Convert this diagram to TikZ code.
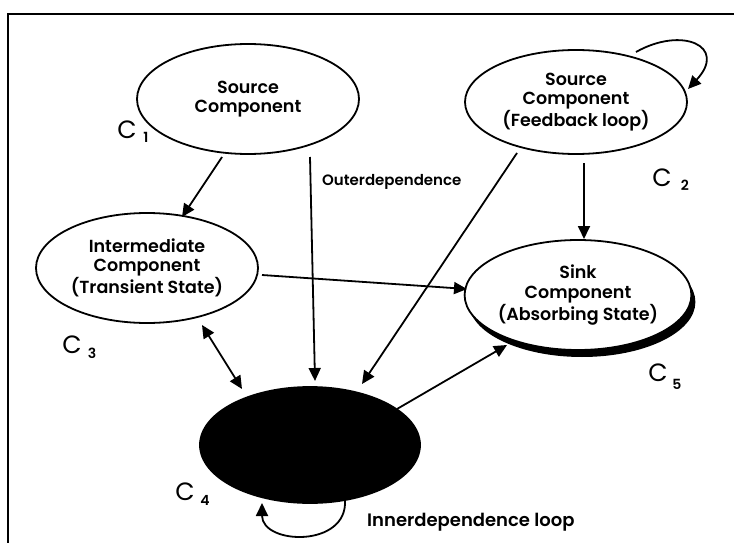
\documentclass[tikz,border=0pt]{standalone}
\usepackage{fontspec}
\setmainfont{Poppins}[BoldFont={* SemiBold}]
\usetikzlibrary{shapes.geometric,arrows.meta,shadows}
\begin{document}
\begin{tikzpicture}[x=1pt,y=-1pt,
  comp/.style={ellipse, draw, line width=1.8pt, inner sep=0pt, align=center,
    font=\bfseries\fontsize{17.5}{19.5}\selectfont, minimum width=222pt, minimum height=110pt},
  link/.style={line width=1.8pt, -{Triangle[length=13pt,width=12pt]}},
  clabel/.style={font=\fontsize{25}{25}\selectfont, inner sep=0pt},
  sublabel/.style={font=\bfseries\fontsize{14}{14}\selectfont, inner sep=0pt},
  note/.style={font=\bfseries\fontsize{15}{15}\selectfont, inner sep=0pt, anchor=west}]
\useasboundingbox (0,0) rectangle (734,543);
% frame
\draw[line width=2pt] (8,543) -- (8,14) -- (734,14);
% components
\node[comp] (c1) at (248,99) {Source\\Component};
\node[comp, minimum height=104pt] (c2) at (576,102) {Source\\Component\\(Feedback loop)};
\node[comp] (c3) at (147,268) {Intermediate\\Component\\(Transient State)};
\node[comp, fill=white, drop shadow={shadow xshift=4pt, shadow yshift=-7pt, fill=black, opacity=1}] (c5) at (578,295) {Sink\\Component\\(Absorbing State)};
\node[comp, fill=black, minimum width=220pt, minimum height=116pt] (c4) at (310,445) {};
% labels
\node[clabel] (l1) at (127,130) {C}; \node[sublabel] (s1) at (146,137) {1};
\node[clabel] (l2) at (662,178) {C}; \node[sublabel] (s2) at (685,185) {2};
\node[clabel] (l3) at (72,345) {C}; \node[sublabel] (s3) at (92,353) {3};
\node[clabel] (l4) at (185,492) {C}; \node[sublabel] (s4) at (205,500) {4};
\node[clabel] (l5) at (658,373) {C}; \node[sublabel] (s5) at (677,384) {5};
\node[note] (outer) at (322,182) {Outerdependence};
\node[note, font=\bfseries\fontsize{18}{18}\selectfont] (inner) at (367,522) {Innerdependence loop};
% connectors
\draw[link] (222,157) -- (182,217);
\draw[link] (310,157) -- (315,381);
\draw[link] (517,153) -- (362,384);
\draw[link] (584,163) -- (584,239);
\draw[link] (262,275) -- (467,289);
\draw[line width=1.8pt, {Triangle[length=13pt,width=12pt]}-{Triangle[length=13pt,width=12pt]}] (202,325) -- (242,389);
\draw[link] (397,409) -- (507,345);
% self loops
\draw[link] (636,52) .. controls (682,26) and (728,46) .. (688,89);
\draw[link] (345,500) .. controls (348,548) and (262,545) .. (262,503);
\end{tikzpicture}
\end{document}
